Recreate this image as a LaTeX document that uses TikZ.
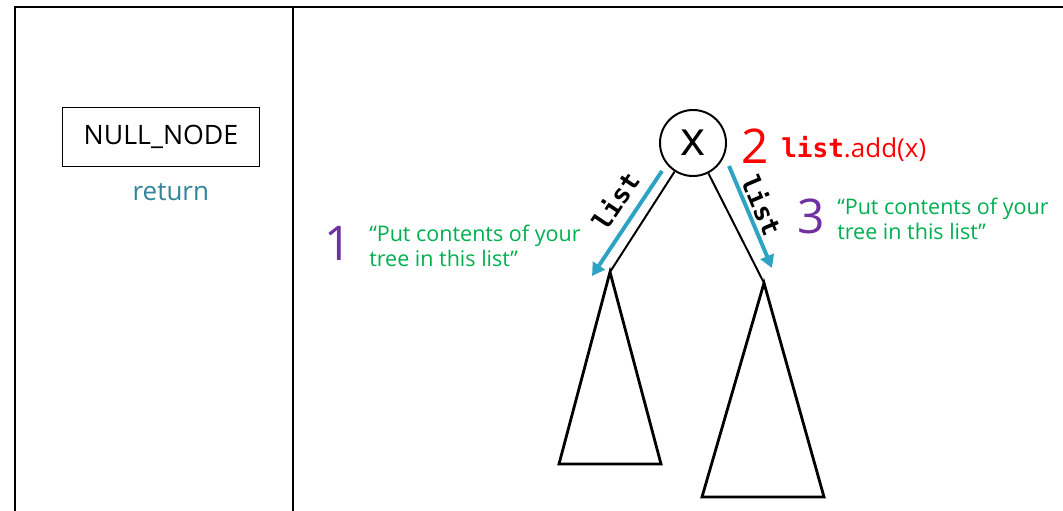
\documentclass[tikz,border=0pt]{standalone}
\usepackage{fontspec}
\setmainfont{Open Sans}
\newfontfamily\codefont{DejaVu Sans Mono}
\usetikzlibrary{arrows.meta,positioning}

\definecolor{retcol}{RGB}{49,133,155}
\definecolor{arrcol}{RGB}{46,163,194}
\definecolor{stepcol}{RGB}{112,48,160}
\definecolor{notecol}{RGB}{0,176,80}

\begin{document}
\begin{tikzpicture}[
            x=0.025cm, y=-0.025cm,
            frame/.style={line width=1.4pt},
            nullbox/.style={draw,line width=1.2pt,rectangle,minimum height=59*0.7113pt,minimum width=197*0.7113pt,inner sep=0pt,font=\fontsize{19}{22}\selectfont},
            root/.style={draw,circle,line width=1.4pt,minimum size=66*0.7113pt,inner sep=0pt,font=\fontsize{34}{34}\selectfont},
            tree/.style={line width=2pt,line join=miter},
            edge/.style={line width=1.4pt},
            listarrow/.style={arrcol,line width=2.8pt,-{Triangle[width=10pt,length=9pt]}},
            listlabel/.style={font=\codefont\bfseries\fontsize{18.5}{20}\selectfont},
            stepnum/.style={font=\fontsize{34}{34}\selectfont},
            note/.style={notecol,align=left,anchor=west,inner sep=0pt,font=\fontsize{15.3}{18}\selectfont}
        ]

        \useasboundingbox (0,0) rectangle (1063,511);

        % frame of the two panels
        \draw[frame] (1063,7) -- (15,7) -- (15,511);
        \draw[frame] (293,7) -- (293,511);

        % base case
        \node[nullbox] (null) at (161,137) {NULL\_NODE};
        \node[retcol,font=\fontsize{18.5}{20}\selectfont,below=8pt of null,xshift=7pt] (ret) {return};

        % recursive case
        \node[root] (x) at (693,143) {x};
        \coordinate (lapex) at (610,272);
        \coordinate (rapex) at (764,283);
        \draw[tree] (lapex) -- (559,464) -- (661,464) -- cycle;
        \draw[tree] (rapex) -- (702,497) -- (824,497) -- cycle;
        \draw[edge] (x) -- (lapex);
        \draw[edge] (x) -- (rapex);

        \coordinate (lfrom) at (662,171);
        \coordinate (lto) at (592,276);
        \coordinate (rfrom) at (729,166);
        \coordinate (rto) at (772,268);
        \draw[listarrow] (lfrom) -- (lto);
        \draw[listarrow] (rfrom) -- (rto);
        \node[listlabel,rotate=56] (llist) at (615,201) {list};
        \node[listlabel,rotate=-67] (rlist) at (762,205) {list};

        \node[stepnum,stepcol] (one) at (338,243) {1};
        \node[note] (lnote) at (369,246) {“Put contents of your\\tree in this list”};

        \node[stepnum,red] (two) at (755,146) {2};
        \node[red,anchor=west,inner sep=0pt,font=\fontsize{18.5}{20}\selectfont] (add) at (781,149) {{\codefont\bfseries list}.add(x)};

        \node[stepnum,stepcol] (three) at (811,216) {3};
        \node[note] (rnote) at (837,219) {“Put contents of your\\tree in this list”};

    \end{tikzpicture}
\end{document}
